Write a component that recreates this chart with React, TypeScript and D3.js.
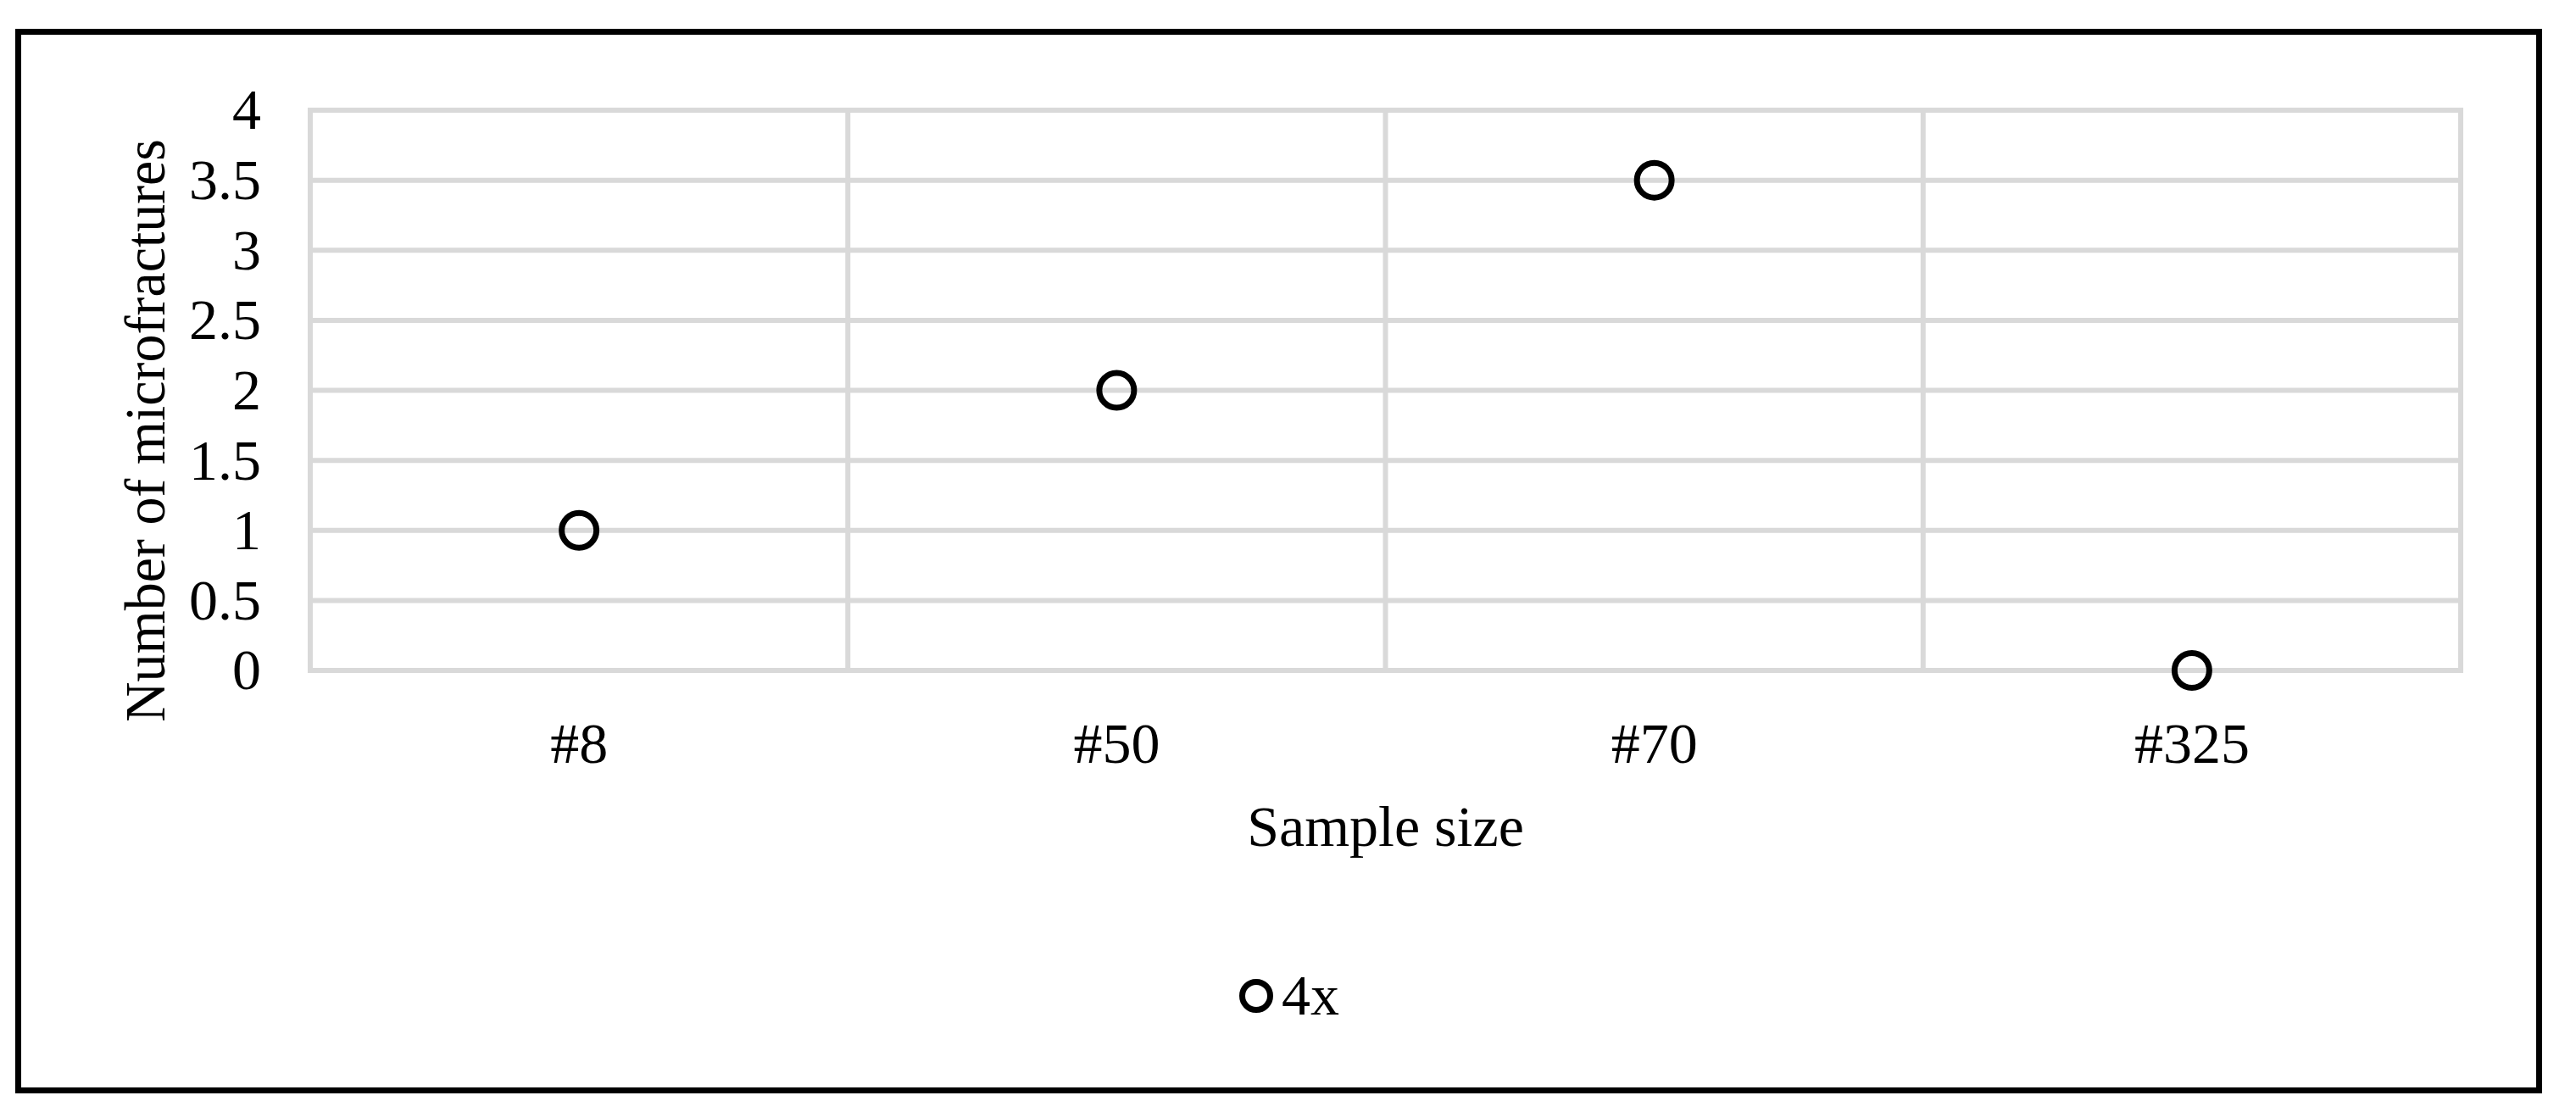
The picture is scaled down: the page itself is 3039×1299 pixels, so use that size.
import React, { useEffect } from 'react'
import { scaleBand, scaleLinear, range } from 'd3'

const categories = ['#8', '#50', '#70', '#325']
const microfractures = [1, 2, 3.5, 0]
const yTicks = [0, 0.5, 1, 1.5, 2, 2.5, 3, 3.5, 4]
const seriesName = '4x'

const W = 3039
const H = 1299
const font = '"Liberation Serif", "Times New Roman", serif'

const App = () => {
  useEffect(() => {
    document.body.style.margin = '0'
  }, [])

  const x = scaleBand().domain(categories).range([366, 2903]).padding(0)
  const y = scaleLinear().domain([0, 4]).range([791, 130])

  // band edges for the vertical grid
  const bounds = range(categories.length + 1).map(i => 366 + i * x.step())

  return (
    <svg width={W} height={H} style={{ display: 'block', background: '#fff' }}>
      <rect x={21.5} y={37.5} width={2974} height={1249} fill="#fff" stroke="#000" strokeWidth={7} />

      {yTicks.map(t => (
        <line key={'h' + t} x1={x.range()[0] - 3} x2={x.range()[1] + 3} y1={y(t)} y2={y(t)} stroke="#d9d9d9" strokeWidth={6} />
      ))}
      {bounds.map((b, i) => (
        <line key={'v' + i} x1={b} x2={b} y1={y(4) - 3} y2={y(0) + 3} stroke="#d9d9d9" strokeWidth={6} />
      ))}

      {yTicks.map(t => (
        <text key={'yt' + t} x={308} y={y(t)} dy="0.33em" textAnchor="end" fontFamily={font} fontSize={68}>
          {t}
        </text>
      ))}
      {categories.map(c => (
        <text key={'xt' + c} x={x(c)! + x.bandwidth() / 2} y={900} textAnchor="middle" fontFamily={font} fontSize={68}>
          {c}
        </text>
      ))}

      <text x={(x.range()[0] + x.range()[1]) / 2} y={998} textAnchor="middle" fontFamily={font} fontSize={68}>
        Sample size
      </text>
      <text
        transform={`translate(194, 508) rotate(-90)`}
        textAnchor="middle"
        fontFamily={font}
        fontSize={68}
        textLength={688}
        lengthAdjust="spacingAndGlyphs"
      >
        Number of microfractures
      </text>

      {microfractures.map((v, i) => (
        <circle key={'p' + i} cx={x(categories[i])! + x.bandwidth() / 2} cy={y(v)} r={20.5} fill="none" stroke="#000" strokeWidth={7} />
      ))}

      <circle cx={1482} cy={1175} r={16.5} fill="none" stroke="#000" strokeWidth={7} />
      <text x={1512} y={1197} fontFamily={font} fontSize={68}>{seriesName}</text>
    </svg>
  )
}

export default App
